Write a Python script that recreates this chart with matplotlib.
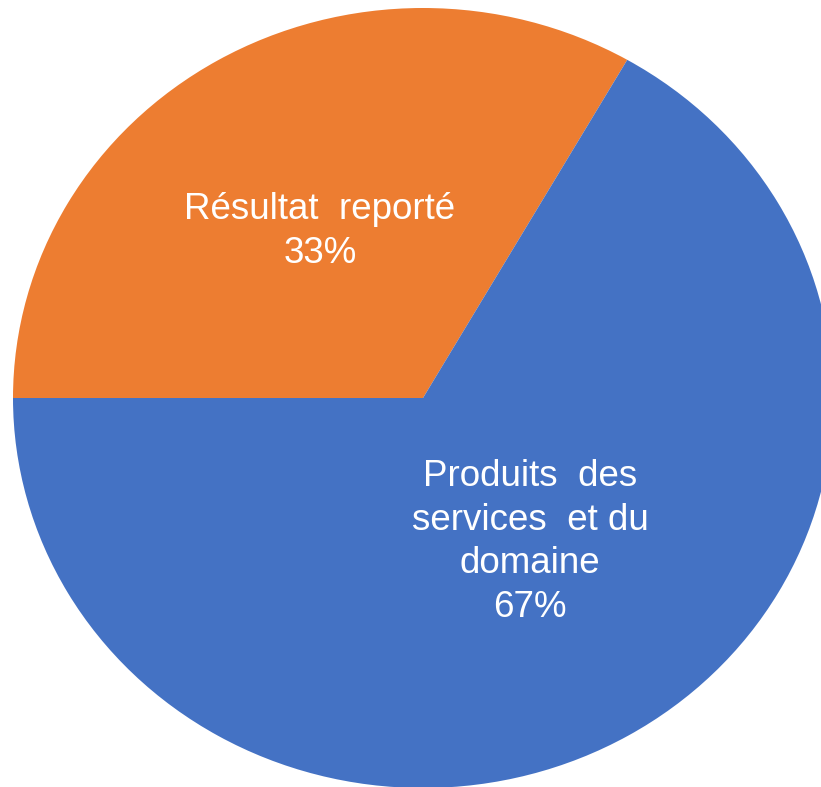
import numpy as np
import matplotlib.pyplot as plt

categories = ["Résultat  reporté", "Produits  des\nservices  et du\ndomaine"]
values = [33.3, 66.7]
colors = ["#ED7D31", "#4472C4"]

labels = [f"{c}\n{round(v)}%" for c, v in zip(categories, values)]

fig = plt.figure(figsize=(8.21, 7.87), dpi=100)
ax = fig.add_axes([0, 0, 1, 1])

wedges, texts = ax.pie(values, labels=labels, colors=colors, startangle=180,
                       counterclock=False, labeldistance=0.48,
                       wedgeprops=dict(linewidth=0),
                       textprops=dict(color="white", fontsize=26.5,
                                      family="Liberation Sans", ha="center",
                                      va="center", linespacing=1.32))
for t in texts:
    t.set_horizontalalignment("center")
    t.set_multialignment("center")

# nudge the big label like Excel does (polar offset inside wedge)
ang = np.deg2rad(-54.7)
texts[1].set_position((0.452 * np.cos(ang), 0.452 * np.sin(ang)))
ang = np.deg2rad(120.5)
texts[0].set_position((0.495 * np.cos(ang), 0.495 * np.sin(ang)))

# pie is slightly stretched horizontally and cropped by the canvas
ax.set_aspect("auto")
ax.set_xlim(-423 / 410, (821 - 423) / 410)
ax.set_ylim(-(787 - 398) / 390, 398 / 390)
ax.axis("off")

fig.savefig("out.png", dpi=100)
